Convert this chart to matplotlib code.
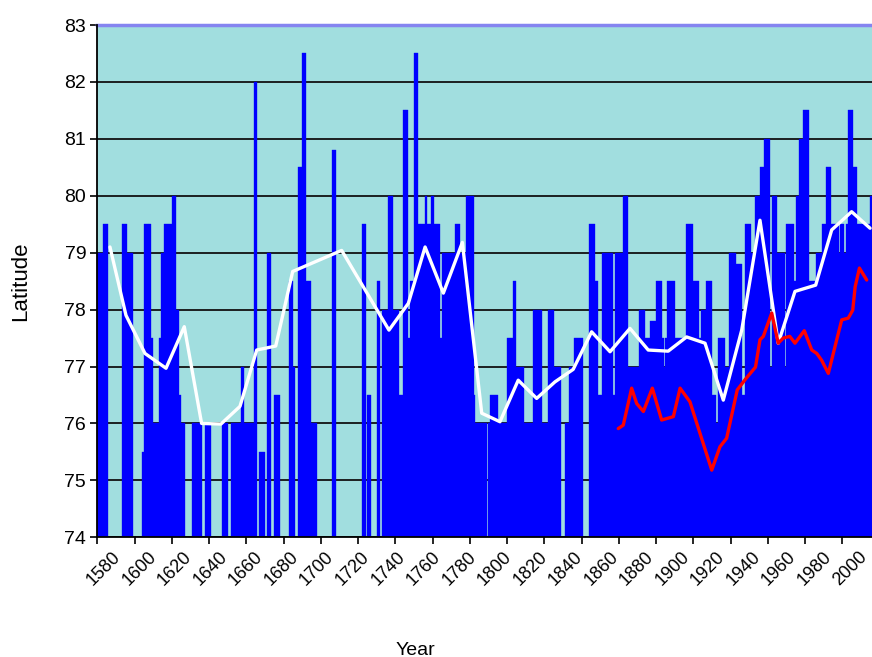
import matplotlib
matplotlib.use("Agg")
import matplotlib.pyplot as plt
import numpy as np
from matplotlib.transforms import ScaledTranslation, blended_transform_factory

plt.rcParams['font.family'] = ['Liberation Sans', 'DejaVu Sans']

N = None
# Annual ice-edge latitude, one value per year from 1580 (None = no data)
first_year = 1580
bar_lat = [
    79.0, 79.0, 79.0, 79.5, 79.5, 79.5, N, N, N, N,            # 1580s
    N, N, N, 79.5, 79.5, 79.5, 79.0, 79.0, 79.0, N,            # 1590s
    N, N, N, N, 75.5, 79.5, 79.5, 79.5, 79.5, 77.5,            # 1600s
    76.0, 76.0, 76.0, 77.5, 79.0, 79.0, 79.5, 79.5, 79.5, 79.5,  # 1610s
    80.0, 80.0, 78.0, 78.0, 76.5, 76.0, 76.0, N, N, N,         # 1620s
    N, 76.0, 76.0, 76.0, 76.0, 76.0, N, N, 76.0, 76.0,         # 1630s
    76.0, N, N, N, N, N, N, 76.0, 76.0, 76.0,                  # 1640s
    N, N, 76.0, 76.0, 76.0, 76.0, 76.0, 77.0, 77.0, 76.0,      # 1650s
    76.0, 76.0, 76.0, 76.0, 82.0, 82.0, N, 75.5, 75.5, 75.5,   # 1660s
    N, 79.0, 79.0, N, N, 76.5, 76.5, 76.5, N, N,               # 1670s
    N, N, N, 78.5, 78.5, 77.0, N, N, 80.5, 80.5,               # 1680s
    82.5, 82.5, 78.5, 78.5, 78.5, 76.0, 76.0, 76.0, N, N,      # 1690s
    N, N, N, N, N, N, 80.8, 80.8, N, N,                        # 1700s
    N, N, N, N, N, N, N, N, N, N,                              # 1710s
    N, N, 79.5, 79.5, N, 76.5, 76.5, N, N, N,                  # 1720s
    78.5, 78.5, N, 78.0, 78.0, 78.0, 80.0, 80.0, 80.0, 78.0,   # 1730s
    78.0, 78.0, 76.5, 76.5, 81.5, 81.5, 81.5, 77.5, 78.5, 78.5,  # 1740s
    82.5, 82.5, 79.5, 79.5, 79.5, 79.5, 80.0, 79.5, 79.5, 80.0,  # 1750s
    80.0, 79.5, 79.5, 79.5, 77.5, 79.0, 79.0, 79.0, 79.0, 79.0,  # 1760s
    79.0, 79.0, 79.5, 79.5, 79.5, 79.0, 79.0, 79.0, 80.0, 80.0,  # 1770s
    80.0, 80.0, 76.5, 76.0, 76.0, 76.0, 76.0, 76.0, 76.0, N,     # 1780s
    76.0, 76.5, 76.5, 76.5, 76.5, 76.0, 76.0, 76.0, 76.0, 76.0,  # 1790s
    77.5, 77.5, 77.5, 78.5, 78.5, 77.0, 77.0, 77.0, 77.0, 76.0,  # 1800s
    76.0, 76.0, 76.0, 76.0, 78.0, 78.0, 78.0, 78.0, 78.0, 76.0,  # 1810s
    76.0, 76.0, 78.0, 78.0, 78.0, 77.0, 77.0, 77.0, 77.0, N,     # 1820s
    N, 76.0, 76.0, 77.0, 77.0, 77.0, 77.5, 77.5, 77.5, 77.5,     # 1830s
    77.5, N, N, N, 79.5, 79.5, 79.5, 78.5, 78.5, 76.5,           # 1840s
    76.5, 79.0, 79.0, 79.0, 79.0, 79.0, 79.0, 76.5, 79.0, 79.0,  # 1850s
    79.0, 79.0, 80.0, 80.0, 80.0, 77.0, 77.0, 77.0, 77.0, 77.0,  # 1860s
    77.0, 78.0, 78.0, 78.0, 77.5, 77.5, 77.5, 77.8, 77.8, 77.8,  # 1870s
    78.5, 78.5, 78.5, 77.5, 77.0, 77.5, 78.5, 78.5, 78.5, 78.5,  # 1880s
    77.5, 77.5, 77.5, 77.5, 77.5, 77.5, 79.5, 79.5, 79.5, 79.5,  # 1890s
    78.5, 78.5, 78.5, 77.5, 78.0, 78.0, 78.0, 78.5, 78.5, 78.5,  # 1900s
    76.5, 76.5, 76.0, 77.5, 77.5, 77.5, 77.5, 77.0, 77.0, 79.0,  # 1910s
    79.0, 79.0, 79.0, 78.8, 78.8, 78.8, 76.5, 76.5, 79.5, 79.5,  # 1920s
    79.5, 79.0, 79.0, 80.0, 80.0, 80.0, 80.5, 80.5, 81.0, 81.0,  # 1930s
    81.0, 77.0, 80.0, 80.0, 80.0, 79.0, 79.0, 79.0, 79.0, 77.0,  # 1940s
    79.5, 79.5, 79.5, 79.5, 78.5, 80.0, 80.0, 81.0, 81.0, 81.5,  # 1950s
    81.5, 81.5, 78.5, 78.5, 78.5, 78.5, 79.0, 79.0, 79.0, 79.5,  # 1960s
    79.5, 80.5, 80.5, 80.5, 79.5, 79.5, 79.5, 79.5, 79.0, 79.5,  # 1970s
    79.5, 79.0, 79.5, 81.5, 81.5, 81.5, 80.5, 80.5, 79.5, 79.5,  # 1980s
    79.5, 79.5, 79.5, 79.5, 79.5, 80.0, 80.0,                    # 1990s
]

# Smoothed (decadal) series - white line
smooth_years = [1586.8, 1595.4, 1605.6, 1616.9, 1626.7, 1636.0, 1646.4, 1656.6,
                1665.6, 1675.8, 1684.9, 1711.2, 1736.6, 1747.0, 1756.0, 1765.8,
                1776.0, 1786.4, 1796.2, 1806.0, 1815.9, 1825.7, 1835.5, 1845.4,
                1855.3, 1866.0, 1875.8, 1886.5, 1896.4, 1906.3, 1916.1, 1926.0,
                1935.8, 1945.6, 1954.6, 1965.7, 1974.3, 1985.0, 1994.9]
smooth_lat = [79.1, 77.9, 77.23, 76.97, 77.7, 76.0, 75.99, 76.3,
              77.29, 77.36, 78.67, 79.04, 77.64, 78.11, 79.1, 78.29,
              79.18, 76.18, 76.03, 76.76, 76.44, 76.73, 76.95, 77.61,
              77.26, 77.67, 77.29, 77.27, 77.52, 77.41, 76.41, 77.64,
              79.57, 77.41, 78.32, 78.43, 79.4, 79.72, 79.43]

# Second series - red line
red_years = [1859.7, 1862.4, 1866.9, 1869.6, 1873.2, 1878.0, 1883.0, 1889.3,
             1892.9, 1898.2, 1909.9, 1914.3, 1917.9, 1923.6, 1928.3, 1933.4,
             1935.8, 1937.6, 1942.1, 1945.6, 1948.3, 1951.8, 1954.6, 1959.6,
             1963.6, 1966.3, 1968.9, 1972.5, 1977.0, 1979.7, 1983.2, 1985.6,
             1986.9, 1989.2, 1993.1]
red_lat = [75.91, 75.97, 76.62, 76.35, 76.21, 76.62, 76.06, 76.12,
           76.62, 76.38, 75.18, 75.59, 75.74, 76.59, 76.79, 76.99,
           77.47, 77.53, 77.94, 77.41, 77.5, 77.53, 77.41, 77.63,
           77.29, 77.23, 77.11, 76.88, 77.47, 77.82, 77.85, 77.99,
           78.4, 78.73, 78.52]

x_ticks = list(range(1580, 2001, 20))
x_labels = [str(t) for t in x_ticks]
y_ticks = list(range(74, 84))

W, H = 872, 657
DPI = 100
fig = plt.figure(figsize=(W / DPI, H / DPI), dpi=DPI)
fig.patch.set_facecolor('white')
left_px, right_year = 97.3, 2001
px_per_year = 1.8625
ax_w_px = (right_year - 1580) * px_per_year
ax = fig.add_axes([left_px / W, 119.7 / H, ax_w_px / W, 512.3 / H])
ax.set_facecolor('#A1DEDF')
ax.set_xlim(1580, right_year)
ax.set_ylim(74, 83)

years = np.arange(first_year, first_year + len(bar_lat))
vals = np.array([np.nan if v is None else v for v in bar_lat], dtype=float)
m = ~np.isnan(vals)
ax.bar(years[m], vals[m] - 74, bottom=74, width=1.0, align='edge',
       color='#0000FF', edgecolor='#0000FF', linewidth=0.25, zorder=2)

ax.plot(smooth_years, smooth_lat, color='white', lw=2.4, zorder=4,
        solid_joinstyle='round', solid_capstyle='round')
ax.plot(red_years, red_lat, color='#FF0000', lw=2.4, zorder=5,
        solid_joinstyle='round', solid_capstyle='round')

ax.set_yticks(y_ticks)
ax.set_yticklabels([str(t) for t in y_ticks], fontsize=14)
ax.yaxis.grid(True, color='#111111', lw=1.3, zorder=1)
ax.set_axisbelow(True)
ax.axhline(83, color='#8585F0', lw=2.5, zorder=6, clip_on=False)

# tick marks every 20 years; labels laid out as in the original (slightly tighter spacing)
ax.set_xticks(x_ticks)
ax.set_xticklabels([''] * len(x_ticks))
first_anchor_px, label_step_px = 112.0, 35.55
trans = blended_transform_factory(ax.transAxes, ax.transAxes) + \
    ScaledTranslation(0, -11 / DPI, fig.dpi_scale_trans)
for i, lab in enumerate(x_labels):
    xa = (first_anchor_px + i * label_step_px - left_px) / ax_w_px
    ax.text(xa, 0, lab, transform=trans, fontsize=13, rotation=45,
            ha='right', va='top', rotation_mode='anchor', clip_on=False)

ax.tick_params(axis='both', direction='out', length=5, width=1.2, color='black')
ax.tick_params(axis='y', pad=3)

for s in ['top', 'right']:
    ax.spines[s].set_visible(False)
for s in ['left', 'bottom']:
    ax.spines[s].set_color('black')
    ax.spines[s].set_linewidth(1.3)
    ax.spines[s].set_zorder(7)

ax.set_ylabel('Latitude', fontsize=16)
ax.yaxis.set_label_coords(-0.084, 0.5)
ax.set_xlabel('Year', fontsize=14)
ax.xaxis.set_label_coords(0.406, -0.22)
ax.xaxis.label.set_va('center')

fig.savefig('out.png', dpi=DPI)
